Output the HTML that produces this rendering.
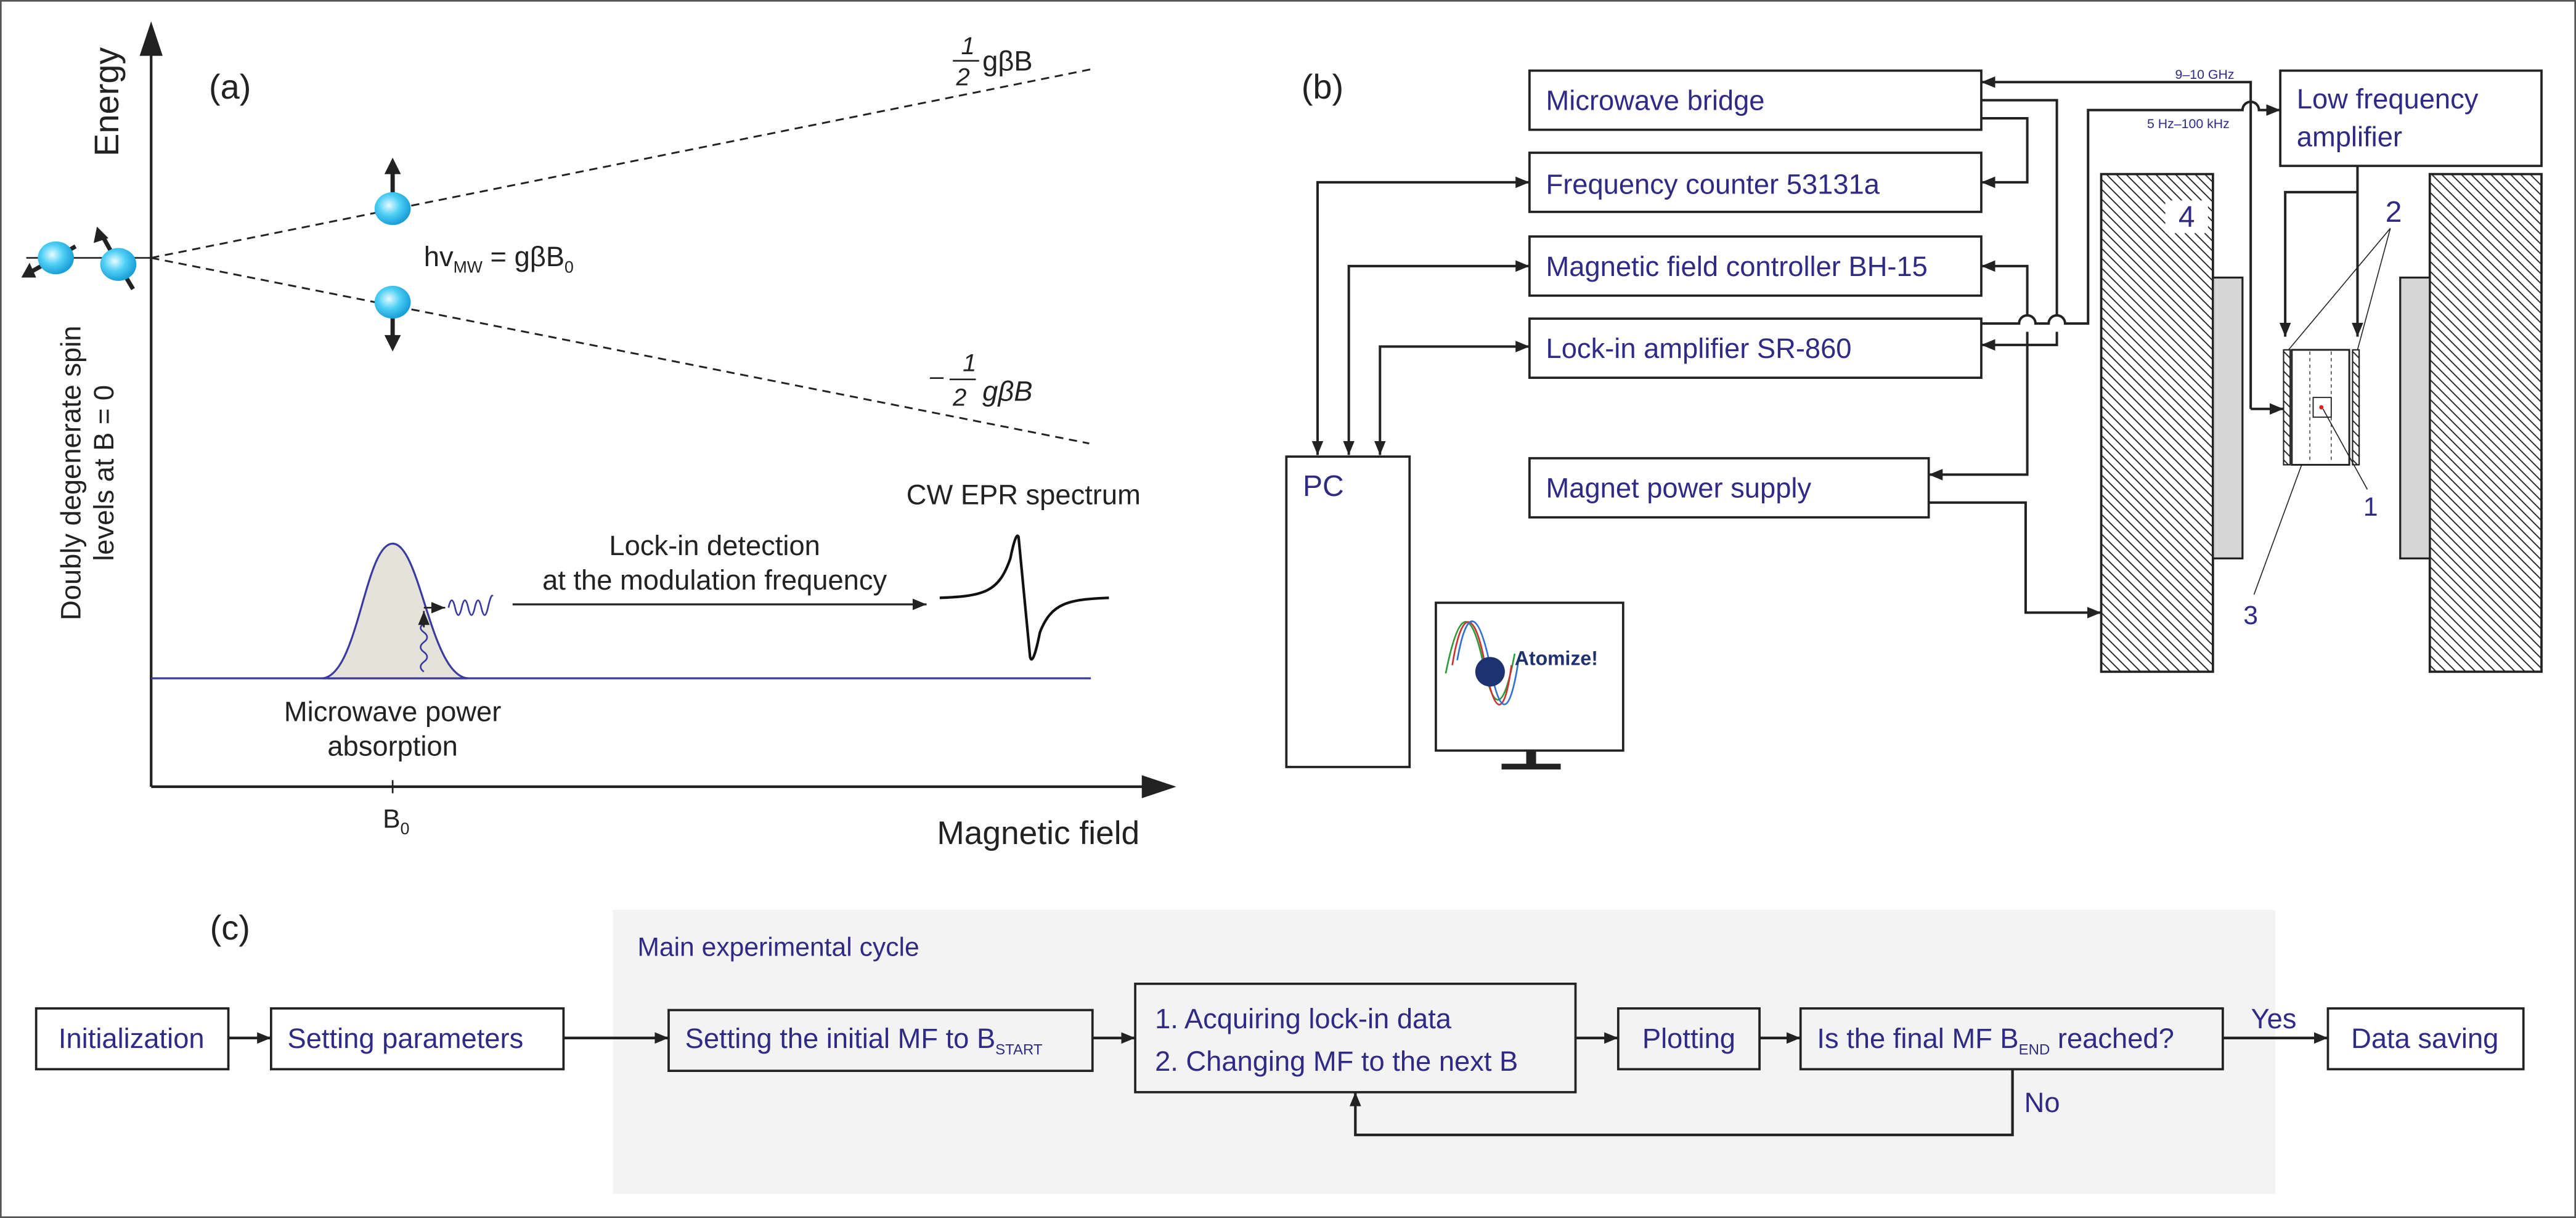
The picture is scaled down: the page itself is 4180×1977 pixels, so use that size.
<!DOCTYPE html>
<html><head><meta charset="utf-8"><style>
html,body{margin:0;padding:0;background:#fff}
svg{display:block}
text{font-family:"Liberation Sans Narrow","Liberation Sans",sans-serif}
.b{fill:#2e2a85}
.k{fill:#222}
</style></head><body>
<svg width="4180" height="1977" viewBox="0 0 1568 741.6" xmlns="http://www.w3.org/2000/svg">
<defs>
<marker id="ar" viewBox="0 0 10 10" refX="10" refY="5" markerWidth="8.5" markerHeight="7" orient="auto-start-reverse" markerUnits="userSpaceOnUse" preserveAspectRatio="none"><path d="M0,0 L10,5 L0,10 Z" fill="#222"/></marker>
<radialGradient id="sph" cx="0.4" cy="0.4" r="0.6"><stop offset="0" stop-color="#e8fbff"/><stop offset="0.5" stop-color="#4fd0f5"/><stop offset="1" stop-color="#1a9fd8"/></radialGradient>
<pattern id="hatch" width="6" height="6" patternUnits="userSpaceOnUse"><path d="M-1,-1 L7,7 M-4,2 L4,10 M2,-4 L10,4" stroke="#222" stroke-width="0.7"/></pattern>
</defs>
<rect x="0.5" y="0.5" width="1567" height="740.6" fill="#fff" stroke="#555" stroke-width="1"/>

<!-- Panel a -->
<g stroke="#222" stroke-width="1.6" fill="none">
<line x1="92" y1="479" x2="92" y2="30"/>
<line x1="92" y1="479" x2="698" y2="479"/>
</g>
<polygon points="92,13 85,34 99,34" fill="#222"/>
<polygon points="716,479 695,472 695,486" fill="#222"/>
<text x="72" y="62" font-size="21" class="k" transform="rotate(-90 72 62)" text-anchor="middle" style="font-family:'Liberation Sans',sans-serif">Energy</text>
<text x="140" y="60" font-size="21" class="k" text-anchor="middle">(a)</text>
<text transform="translate(49,288) rotate(-90)" font-size="17" class="k" text-anchor="middle" style="font-family:'Liberation Sans',sans-serif">Doubly degenerate spin</text>
<text transform="translate(69,288) rotate(-90)" font-size="17" class="k" text-anchor="middle" style="font-family:'Liberation Sans',sans-serif">levels at B = 0</text>
<g stroke="#222" stroke-width="1.1" stroke-dasharray="5,3.5" fill="none">
<line x1="92" y1="157" x2="665" y2="42"/>
<line x1="92" y1="157" x2="663" y2="270"/>
</g>
<line x1="16" y1="157" x2="92" y2="157" stroke="#222" stroke-width="1"/>
<g class="k" font-style="italic">
<text x="585" y="33" font-size="15">1</text><line x1="580" y1="37" x2="596" y2="37" stroke="#222" stroke-width="1"/><text x="582" y="52" font-size="15">2</text>
<text x="598" y="43" font-size="17" font-style="normal">gβB</text>
<text x="566" y="234" font-size="15">–</text>
<text x="586" y="226" font-size="15">1</text><line x1="578" y1="231" x2="594" y2="231" stroke="#222" stroke-width="1"/><text x="580" y="247" font-size="15">2</text>
<text x="598" y="244" font-size="17">gβB</text>
</g>
<g stroke="#222" stroke-width="2.6">
<line x1="239" y1="127" x2="239" y2="104"/><line x1="239" y1="184" x2="239" y2="207"/>
<line x1="34" y1="157" x2="18" y2="166"/><line x1="72" y1="161" x2="62" y2="143"/><line x1="72" y1="161" x2="81" y2="176"/><line x1="34" y1="157" x2="46" y2="150"/>
</g>
<polygon points="239,96 234,106 244,106" fill="#222"/>
<polygon points="239,214 234,204 244,204" fill="#222"/>
<polygon points="13,169 18,160 22,169" fill="#222"/>
<polygon points="59,138 57,148 66,145" fill="#222"/>
<ellipse cx="34" cy="157" rx="11" ry="10" fill="url(#sph)"/>
<ellipse cx="72" cy="161" rx="11" ry="10" fill="url(#sph)"/>
<ellipse cx="239" cy="127" rx="11" ry="10" fill="url(#sph)"/>
<ellipse cx="239" cy="184" rx="11" ry="10" fill="url(#sph)"/>
<text x="258" y="162" font-size="17" class="k">hv<tspan font-size="10" dy="4">MW</tspan><tspan dy="-4"> = gβB</tspan><tspan font-size="10" dy="4">0</tspan></text>
<line x1="92" y1="413" x2="664" y2="413" stroke="#3a3aa0" stroke-width="1.2"/>
<path d="M196,413 C218,412 222,331 239,331 C256,331 262,412 285,413 Z" fill="#e5e2da" stroke="#3a3aa0" stroke-width="1.2"/>
<path d="M258,409 q-4,-3 0,-6 q4,-3 0,-6 q-4,-3 0,-6 q4,-3 0,-6 q-4,-3 0,-5" stroke="#3a3aa0" stroke-width="1" fill="none"/>
<line x1="258" y1="382" x2="258" y2="372" stroke="#222" stroke-width="1" marker-end="url(#ar)"/>
<line x1="258" y1="370" x2="271" y2="370" stroke="#222" stroke-width="1" marker-end="url(#ar)"/>
<path d="M273,370 q2,-9 4,0 q2,9 4,0 q2,-9 4,0 q2,9 4,0 q2,-9 4,0 q2,9 4,0 q2,-9 3,-7" stroke="#3a3aa0" stroke-width="1" fill="none"/>
<line x1="312" y1="368" x2="564" y2="368" stroke="#222" stroke-width="1.2" marker-end="url(#ar)"/>
<text x="435" y="338" font-size="17" class="k" text-anchor="middle">Lock-in detection</text>
<text x="435" y="359" font-size="17" class="k" text-anchor="middle">at the modulation frequency</text>
<text x="623" y="307" font-size="17" class="k" text-anchor="middle">CW EPR spectrum</text>
<path d="M572,364 C600,363 608,360 615,340 C617,330 619,324 620,327 L627,400 C628,404 630,400 633,385 C640,367 650,365 675,364" stroke="#111" stroke-width="1.6" fill="none"/>
<text x="239" y="439" font-size="17" class="k" text-anchor="middle">Microwave power</text>
<text x="239" y="460" font-size="17" class="k" text-anchor="middle">absorption</text>
<line x1="239" y1="475" x2="239" y2="483" stroke="#222" stroke-width="1"/>
<text x="233" y="504" font-size="16" class="k">B<tspan font-size="10" dy="4">0</tspan></text>
<text x="632" y="514" font-size="20" class="k" text-anchor="middle">Magnetic field</text>

<!-- Panel b -->
<text x="805" y="60" font-size="21" class="k" text-anchor="middle">(b)</text>
<g fill="#fff" stroke="#222" stroke-width="1.4">
<rect x="931" y="43" width="275" height="36"/>
<rect x="931" y="93" width="275" height="36"/>
<rect x="931" y="144" width="275" height="36"/>
<rect x="931" y="194" width="275" height="36"/>
<rect x="931" y="279" width="243" height="36"/>
<rect x="783" y="278" width="75" height="189"/>
<rect x="874" y="367" width="114" height="90"/>
<rect x="1388" y="43" width="159" height="58"/>
</g>
<rect x="929" y="457" width="6" height="9" fill="#222"/>
<rect x="914" y="465" width="36" height="3.5" fill="#222"/>
<g class="b" font-size="17">
<text x="941" y="67">Microwave bridge</text>
<text x="941" y="118">Frequency counter 53131a</text>
<text x="941" y="168">Magnetic field controller BH-15</text>
<text x="941" y="218">Lock-in amplifier SR-860</text>
<text x="941" y="303">Magnet power supply</text>
<text x="793" y="302" font-size="18">PC</text>
<text x="1398" y="66">Low frequency</text>
<text x="1398" y="89">amplifier</text>
<text x="1342" y="48" font-size="8" text-anchor="middle">9–10 GHz</text>
<text x="1332" y="78" font-size="8" text-anchor="middle">5 Hz–100 kHz</text>
<text x="1457" y="135" font-size="18" text-anchor="middle" style="font-family:'Liberation Sans',sans-serif">2</text>
<text x="1443" y="314" font-size="16" text-anchor="middle" style="font-family:'Liberation Sans',sans-serif">1</text>
<text x="1370" y="380" font-size="16" text-anchor="middle" style="font-family:'Liberation Sans',sans-serif">3</text>
</g>
<g fill="none" stroke-width="1">
<path d="M880,410 C888,370 895,370 902,400 C908,430 914,440 922,398" stroke="#2a9a3a"/>
<path d="M884,405 C890,368 898,372 904,405 C910,438 916,436 920,405" stroke="#d03030"/>
<path d="M887,402 C893,368 900,372 907,405 C913,438 919,436 924,404" stroke="#3070d0"/>
</g>
<circle cx="907" cy="409" r="9" fill="#1e3170"/>
<text x="922" y="405" font-size="12" font-weight="bold" fill="#1e3170" style="font-family:'Liberation Sans',sans-serif">Atomize!</text>
<rect x="1279" y="106" width="68" height="303" fill="url(#hatch)" stroke="#222" stroke-width="1.4"/>
<rect x="1479" y="106" width="68" height="303" fill="url(#hatch)" stroke="#222" stroke-width="1.4"/>
<rect x="1318" y="122" width="26" height="20" fill="#fff"/>
<text x="1331" y="138" font-size="18" text-anchor="middle" class="b" style="font-family:'Liberation Sans',sans-serif">4</text>
<rect x="1347" y="169" width="18" height="171" fill="#d6d6d6" stroke="#222" stroke-width="1.2"/>
<rect x="1461" y="169" width="18" height="171" fill="#d6d6d6" stroke="#222" stroke-width="1.2"/>
<rect x="1395" y="213" width="35" height="70" fill="#fff" stroke="#222" stroke-width="1.1"/>
<line x1="1406" y1="214" x2="1406" y2="282" stroke="#444" stroke-width="0.6" stroke-dasharray="2,2"/>
<line x1="1419" y1="214" x2="1419" y2="282" stroke="#444" stroke-width="0.6" stroke-dasharray="2,2"/>
<rect x="1390" y="213" width="4" height="70" fill="url(#hatch)" stroke="#222" stroke-width="0.8"/>
<rect x="1432" y="213" width="4" height="70" fill="url(#hatch)" stroke="#222" stroke-width="0.8"/>
<rect x="1408" y="242" width="11" height="12" fill="#fff" stroke="#222" stroke-width="0.7"/>
<circle cx="1413" cy="248" r="1.3" fill="#e02020"/>
<g stroke="#222" stroke-width="0.6">
<line x1="1455" y1="139" x2="1393" y2="213"/><line x1="1455" y1="139" x2="1435" y2="213"/>
<line x1="1441" y1="298" x2="1414" y2="249"/><line x1="1372" y1="362" x2="1401" y2="283"/>
</g>
<g stroke="#222" stroke-width="1.5" fill="none">
<path d="M1370,249 L1370,50 L1206,50" marker-end="url(#ar)"/>
<path d="M1370,249 L1390,249" marker-end="url(#ar)"/>
<path d="M1206,197 L1229,197 a5,5 0 0 1 10,0 L1247,197 a5,5 0 0 1 10,0 L1271,197 L1271,67 L1365,67 a5,5 0 0 1 10,0 L1388,67" marker-end="url(#ar)"/>
<path d="M1206,61 L1252,61 L1252,192 M1252,202 L1252,210 L1206,210" marker-end="url(#ar)"/>
<path d="M1206,72 L1234,72 L1234,111 L1206,111" marker-end="url(#ar)"/>
<path d="M1206,162 L1234,162 L1234,192 M1234,202 L1234,289 L1174,289" marker-start="url(#ar)" marker-end="url(#ar)"/>
<path d="M1174,306 L1233,306 L1233,373 L1279,373" marker-end="url(#ar)"/>
<path d="M1435,101 L1435,205" marker-end="url(#ar)"/>
<path d="M1435,117 L1391,117 L1391,205" marker-end="url(#ar)"/>
<path d="M931,111 L802,111 L802,277" marker-start="url(#ar)" marker-end="url(#ar)"/>
<path d="M931,162 L821,162 L821,277" marker-start="url(#ar)" marker-end="url(#ar)"/>
<path d="M931,211 L840,211 L840,277" marker-start="url(#ar)" marker-end="url(#ar)"/>
</g>

<!-- Panel c -->
<rect x="373" y="554" width="1012" height="173" fill="#f3f3f3"/>
<text x="140" y="572" font-size="21" class="k" text-anchor="middle">(c)</text>
<text x="388" y="582" font-size="16" class="b">Main experimental cycle</text>
<g stroke="#222" stroke-width="1.4">
<rect x="22" y="614" width="117" height="37" fill="#fff"/>
<rect x="165" y="614" width="178" height="37" fill="#fff"/>
<rect x="407" y="615" width="258" height="37" fill="#f3f3f3"/>
<rect x="691" y="599" width="268" height="66" fill="#f3f3f3"/>
<rect x="985" y="614" width="86" height="37" fill="#f3f3f3"/>
<rect x="1096" y="614" width="257" height="37" fill="#f3f3f3"/>
<rect x="1417" y="614" width="119" height="37" fill="#fff"/>
</g>
<g stroke="#222" stroke-width="1.6" fill="none">
<path d="M139,632 L165,632" marker-end="url(#ar)"/>
<path d="M343,632 L407,632" marker-end="url(#ar)"/>
<path d="M665,632 L691,632" marker-end="url(#ar)"/>
<path d="M959,632 L985,632" marker-end="url(#ar)"/>
<path d="M1071,632 L1096,632" marker-end="url(#ar)"/>
<path d="M1353,632 L1417,632" marker-end="url(#ar)"/>
<path d="M1225,651 L1225,691 L825,691 L825,665" marker-end="url(#ar)"/>
</g>
<g class="b" font-size="17">
<text x="80" y="638" text-anchor="middle">Initialization</text>
<text x="175" y="638">Setting parameters</text>
<text x="417" y="638">Setting the initial MF to B<tspan font-size="9" dy="4">START</tspan></text>
<text x="703" y="626">1. Acquiring lock-in data</text>
<text x="703" y="652">2. Changing MF to the next B</text>
<text x="1028" y="638" text-anchor="middle">Plotting</text>
<text x="1106" y="638">Is the final MF B<tspan font-size="9" dy="4">END</tspan><tspan dy="-4"> reached?</tspan></text>
<text x="1476" y="638" text-anchor="middle">Data saving</text>
<text x="1384" y="626" text-anchor="middle">Yes</text>
<text x="1243" y="677" text-anchor="middle">No</text>
</g>
</svg>
</body></html>
